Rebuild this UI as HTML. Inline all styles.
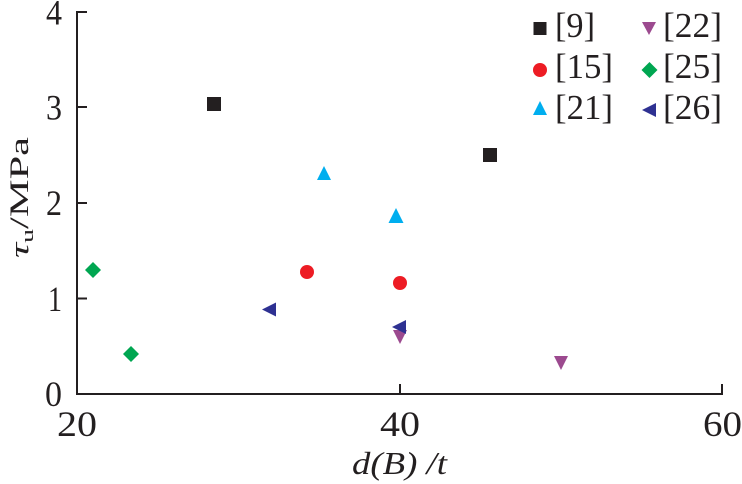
<!DOCTYPE html>
<html><head><meta charset="utf-8"><style>
html,body{margin:0;padding:0;background:#fff;}
svg{display:block;}
text{font-family:"Liberation Serif","Times New Roman",Times,"DejaVu Serif",serif;fill:#231f20;}
</style></head><body>
<svg width="742" height="484" viewBox="0 0 742 484" xmlns="http://www.w3.org/2000/svg" font-family="'Liberation Serif', 'Times New Roman', Times, serif">
<!-- axes -->
<g stroke="#231f20" stroke-width="2" fill="none">
<line x1="77" y1="11" x2="77" y2="395"/>
<line x1="76" y1="394" x2="723" y2="394"/>
<line x1="77" y1="12" x2="87" y2="12"/>
<line x1="77" y1="107" x2="87" y2="107"/>
<line x1="77" y1="203" x2="87" y2="203"/>
<line x1="77" y1="298.5" x2="87" y2="298.5"/>
<line x1="400" y1="384" x2="400" y2="394"/>
<line x1="722" y1="384" x2="722" y2="394"/>
</g>
<!-- y tick labels -->
<g font-size="36">
<text x="46" y="24.5" textLength="16" lengthAdjust="spacingAndGlyphs">4</text>
<text x="46" y="119.5" textLength="16" lengthAdjust="spacingAndGlyphs">3</text>
<text x="46" y="215" textLength="16" lengthAdjust="spacingAndGlyphs">2</text>
<text x="48" y="311" textLength="14" lengthAdjust="spacingAndGlyphs">1</text>
<text x="45" y="406" textLength="17" lengthAdjust="spacingAndGlyphs">0</text>
</g>
<!-- x tick labels -->
<g font-size="36">
<text x="57" y="436" textLength="40" lengthAdjust="spacingAndGlyphs">20</text>
<text x="380" y="436" textLength="40" lengthAdjust="spacingAndGlyphs">40</text>
<text x="703" y="436" textLength="39" lengthAdjust="spacingAndGlyphs">60</text>
</g>
<!-- x axis label -->
<text x="352" y="474" font-size="32" font-style="italic" textLength="95" lengthAdjust="spacingAndGlyphs">d(B) /t</text>
<!-- y axis label -->
<text transform="translate(28,258) rotate(-90)" font-size="26" textLength="121" lengthAdjust="spacingAndGlyphs"><tspan font-style="italic">τ</tspan><tspan font-size="17" dy="5">u</tspan><tspan dy="-5">/MPa</tspan></text>

<!-- data: [9] squares -->
<g fill="#231f20">
<rect x="207" y="97" width="14" height="14"/>
<rect x="483" y="148" width="14" height="14"/>
</g>
<!-- [15] circles -->
<g fill="#ed1c24">
<circle cx="307" cy="272" r="7"/>
<circle cx="400" cy="283" r="7"/>
</g>
<!-- [21] up triangles -->
<g fill="#00aeef">
<polygon points="324,166 331,180 317,180"/>
<polygon points="396,208 403.5,223 388.5,223"/>
</g>
<!-- [22] down triangles -->
<g fill="#9c4a8f">
<polygon points="393,330 407,330 400,344"/>
<polygon points="554,356 568,356 561,370"/>
</g>
<!-- [25] diamonds -->
<g fill="#00a651">
<polygon points="93,262 101,270 93,278 85,270"/>
<polygon points="131,346 139,354 131,362 123,354"/>
</g>
<!-- [26] left triangles -->
<g fill="#2e3192">
<polygon points="262,309.5 276,302.5 276,316.5"/>
<polygon points="392,327 406,320 406,334"/>
</g>

<!-- legend -->
<rect x="533.5" y="22" width="13" height="13" fill="#231f20"/>
<circle cx="540" cy="70" r="7" fill="#ed1c24"/>
<polygon points="540,101 547,115 533,115" fill="#00aeef"/>
<polygon points="642,22 656,22 649,35" fill="#9c4a8f"/>
<polygon points="649.5,62 657.5,70 649.5,78 641.5,70" fill="#00a651"/>
<polygon points="642,110 656,103 656,117" fill="#2e3192"/>
<g font-size="35">
<text x="555" y="37" textLength="40" lengthAdjust="spacingAndGlyphs">[9]</text>
<text x="555" y="78" textLength="58" lengthAdjust="spacingAndGlyphs">[15]</text>
<text x="555" y="119" textLength="58" lengthAdjust="spacingAndGlyphs">[21]</text>
<text x="663" y="37" textLength="59" lengthAdjust="spacingAndGlyphs">[22]</text>
<text x="663" y="78" textLength="59" lengthAdjust="spacingAndGlyphs">[25]</text>
<text x="663" y="119" textLength="59" lengthAdjust="spacingAndGlyphs">[26]</text>
</g>
</svg>
</body></html>
